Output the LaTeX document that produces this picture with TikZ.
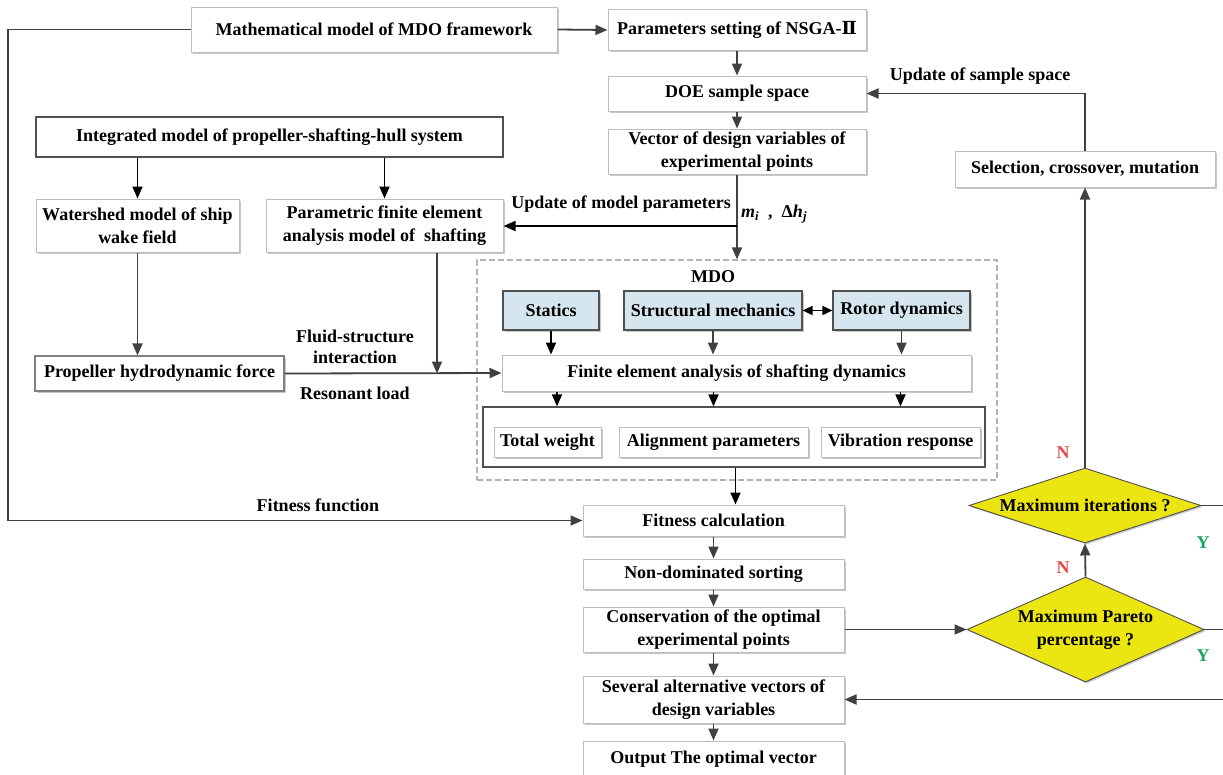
\documentclass[tikz,border=0pt]{standalone}
\usepackage{fontspec}
\setmainfont{Liberation Serif}
\newfontfamily\romfont{DejaVu Serif}
\usetikzlibrary{arrows.meta,shapes.geometric,shadows}
\definecolor{lc}{HTML}{404040}
\definecolor{bc}{HTML}{BDBDBD}
\definecolor{dc}{HTML}{505050}
\definecolor{blu}{HTML}{D6E6EF}
\definecolor{yel}{HTML}{EBE512}
\definecolor{nred}{HTML}{E84545}
\definecolor{ygreen}{HTML}{12A65A}
\begin{document}
\begin{tikzpicture}[x=1pt,y=-1pt,
  font=\fontsize{18}{23}\selectfont\bfseries,
  shad/.style={drop shadow={shadow xshift=1.5pt,shadow yshift=-1.5pt,fill=black!22,opacity=1}},
  box/.style={draw=bc,line width=1pt,fill=white,align=center,inner sep=0pt,shad},
  dbox/.style={draw=dc,line width=1.2pt,fill=white,align=center,inner sep=0pt},
  bbox/.style={draw=dc,line width=1.2pt,fill=blu,align=center,inner sep=0pt,shad},
  dia/.style={diamond,draw=dc,line width=0.9pt,fill=yel,align=center,inner sep=0pt,shad},
  arr/.style={draw=lc,line width=1.8pt,-{Triangle[length=12pt,width=10pt]}},
  barr/.style={draw=black,line width=1.8pt,-{Triangle[length=12pt,width=10pt]}},
  ln/.style={draw=lc,line width=1.8pt},
  lab/.style={inner sep=0pt,align=center},
  yn/.style={lab,font=\fontsize{18}{22}\selectfont\bfseries}]
\useasboundingbox (0,0) rectangle (1223,774);
% ---------- nodes ----------
\node[box,minimum width=366pt,minimum height=45pt] (math) at (374,29.5) {Mathematical model of MDO framework};
\node[box,minimum width=258pt,minimum height=41pt] (params) at (737,30) {Parameters setting of NSGA-{\romfont\bfseries Ⅱ}};
\node[box,minimum width=258pt,minimum height=35pt] (doe) at (737,93.5) {DOE sample space};
\node[box,minimum width=258pt,minimum height=45pt] (vec) at (737,151.5) {Vector of design variables of\\experimental points};
\node[dbox,minimum width=467pt,minimum height=40pt] (integ) at (269.5,137) {Integrated model of propeller-shafting-hull system};
\node[box,minimum width=203pt,minimum height=53pt] (water) at (137.5,225.5) {Watershed model of ship\\wake field};
\node[box,minimum width=237pt,minimum height=53pt] (param) at (384.5,225.5) {Parametric finite element\\analysis model of \ shafting};
\node[dbox,draw=gray,minimum width=249pt,minimum height=35pt,shad] (prop) at (159.5,373.5) {Propeller hydrodynamic force};
\node[draw=black!30,dash pattern=on 6pt off 3pt,line width=1.2pt,minimum width=520pt,minimum height=220pt,inner sep=0pt] (mdo) at (737,370) {};
\node[lab] (mdol) at (713,277) {MDO};
\node[bbox,minimum width=96pt,minimum height=39pt] (statics) at (551,310.5) {Statics};
\node[bbox,minimum width=178pt,minimum height=39pt] (struct) at (713,310.5) {Structural mechanics};
\node[bbox,minimum width=137pt,minimum height=39pt] (rotor) at (901.5,310.5) {Rotor dynamics};
\node[box,minimum width=469pt,minimum height=36pt] (fea) at (736.5,373) {Finite element analysis of shafting dynamics};
\node[dbox,minimum width=502pt,minimum height=60pt] (res) at (734,437) {};
\node[box,minimum width=107pt,minimum height=30pt] (tw) at (547.5,442) {Total weight};
\node[box,minimum width=189pt,minimum height=30pt] (ap) at (713.5,442) {Alignment parameters};
\node[box,minimum width=159pt,minimum height=30pt] (vr) at (900.5,442) {Vibration response};
\node[box,minimum width=261pt,minimum height=31pt] (fit) at (713.5,520.5) {Fitness calculation};
\node[box,minimum width=261pt,minimum height=30pt] (nds) at (713.5,574) {Non-dominated sorting};
\node[box,minimum width=261pt,minimum height=45pt] (cons) at (713.5,629.5) {Conservation of the optimal\\experimental points};
\node[box,minimum width=261pt,minimum height=47pt] (sev) at (713.5,699.5) {Several alternative vectors of\\design variables};
\node[box,minimum width=261pt,minimum height=36pt] (out) at (713.5,759) {Output The optimal vector};
\node[box,minimum width=260pt,minimum height=36pt] (sel) at (1085,169) {Selection, crossover, mutation};
\node[dia,minimum width=232pt,minimum height=75pt,aspect=3.09] (d1) at (1085,505.5) {Maximum iterations ?};
\node[dia,minimum width=237pt,minimum height=105pt,aspect=2.26] (d2) at (1085.5,629.5) {Maximum Pareto\\percentage ?};
% ---------- labels ----------
\node[lab] (lfit) at (318,505) {Fitness function};
\node[lab] (lups) at (980,76) {Update of sample space};
\node[lab,anchor=east] (lump) at (731,204) {Update of model parameters};
\node[lab,anchor=west] (lmh) at (741,214) {\textit{m}\textsubscript{\textit{i}}~~,~~Δ\textit{h}\textsubscript{\textit{j}}};
\node[lab] (lfs) at (355,336) {Fluid-structure};
\node[lab] (lint) at (355,357) {interaction};
\node[lab] (lres) at (355,393) {Resonant load};
\node[yn,text=nred] (n1) at (1063,453) {N};
\node[yn,text=nred] (n2) at (1063,568) {N};
\node[yn,text=ygreen] (y1) at (1203,543) {Y};
\node[yn,text=ygreen] (y2) at (1203,656) {Y};
% ---------- coordinates ----------
\coordinate (cl) at (8,29.5);
\coordinate (cb) at (8,520.5);
\coordinate (j1) at (437,373.5);
\coordinate (j2) at (737,226);
\coordinate (cs) at (1085,93.5);
\coordinate (r1) at (1240,505.5);
\coordinate (r2) at (1240,629.5);
\coordinate (r3) at (1240,699.5);
% ---------- connectors ----------
\draw[arr] (math.west) -- (cl) -- (cb) -- (fit.west);
\draw[arr] (math.east) -- (params.west);
\draw[arr] (params.south) -- (doe.north);
\draw[arr] (doe.south) -- (vec.north);
\draw[arr] (vec.south) -- (vec.south |- mdo.north);
\draw[barr] (j2) -- (param.east |- j2);
\draw[barr] (integ.south -| water.north) -- (water.north);
\draw[barr] (integ.south -| param.north) -- (param.north);
\draw[arr] (water.south) -- (water.south |- prop.north);
\draw[arr] (param.south -| j1) -- (j1);
\draw[arr] (prop.east) -- (fea.west);
\draw[barr] (statics.south) -- (statics.south |- fea.north);
\draw[arr] (struct.south) -- (struct.south |- fea.north);
\draw[arr] (rotor.south) -- (rotor.south |- fea.north);
\draw[draw=black,line width=1.8pt,{Triangle[length=10pt,width=9pt]}-{Triangle[length=10pt,width=9pt]}] (struct.east) -- (rotor.west);
\draw[barr] ([xshift=9.5pt]tw.north |- fea.south) -- ([xshift=9.5pt]tw.north |- res.north);
\draw[barr] (ap.north |- fea.south) -- (ap.north |- res.north);
\draw[barr] (vr.north |- fea.south) -- (vr.north |- res.north);
\draw[barr] ([xshift=1.5pt]res.south) -- ([xshift=1.5pt]res.south |- fit.north);
\draw[arr] (fit.south) -- (nds.north);
\draw[arr] (nds.south) -- (cons.north);
\draw[arr] (cons.south) -- (sev.north);
\draw[arr] (sev.south) -- (out.north);
\draw[arr] (cons.east) -- (d2.west);
\draw[arr] (d2.north) -- (d1.south);
\draw[arr] (d1.north) -- (sel.south);
\draw[arr] (sel.north) -- (cs) -- (doe.east);
\draw[ln] (d1.east) -- (r1);
\draw[ln] (d2.east) -- (r2);
\draw[arr] (r3) -- (sev.east);
\end{tikzpicture}
\end{document}
